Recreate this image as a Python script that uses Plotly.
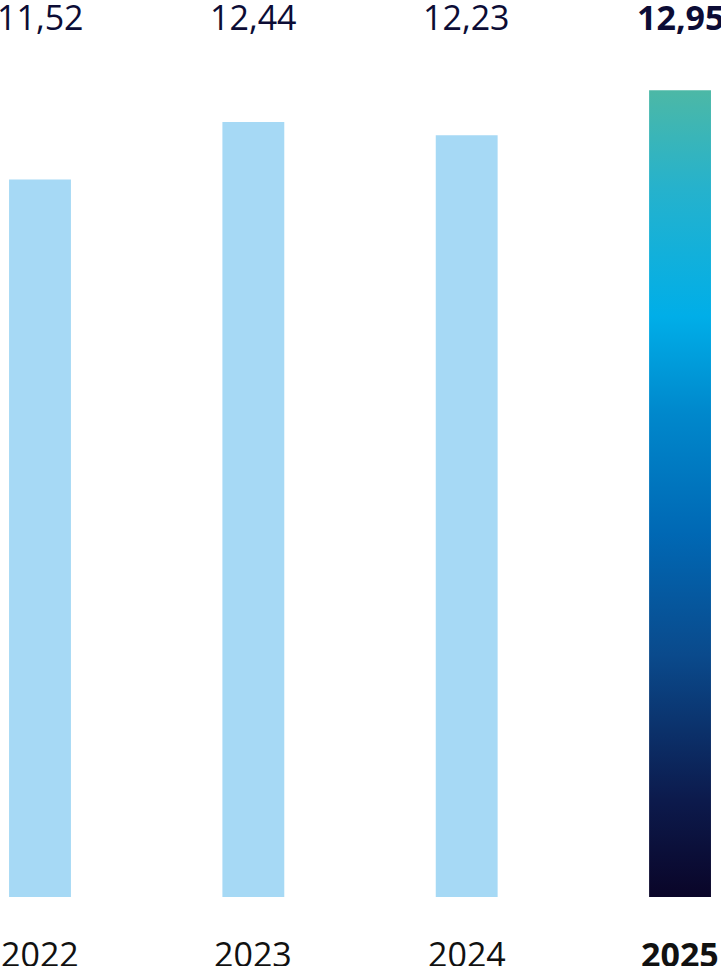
import plotly.graph_objects as go

annees = ["2022", "2023", "2024", "2025"]
valeurs = [11.52, 12.44, 12.23, 12.95]
etiquettes = ["11,52", "12,44", "12,23", "12,95"]

bleu_clair = "#a6d9f5"
degrade = [
    [0.0, "#0a0528"],
    [0.12, "#0c1a4c"],
    [0.3, "#0a4a8c"],
    [0.45, "#0068b4"],
    [0.6, "#0088cc"],
    [0.72, "#00aee8"],
    [0.88, "#26b2cc"],
    [1.0, "#4cb8a6"],
]
police = "Open Sans"
largeur = 0.29

fig = go.Figure()

# les trois premieres annees en bleu clair
x_pos = list(range(len(annees)))
fig.add_bar(
    x=x_pos[:-1],
    y=valeurs[:-1],
    width=largeur,
    marker=dict(color=bleu_clair, line=dict(width=0)),
    hoverinfo="x+y",
)

# derniere annee : barre en degrade (scatter rempli)
xd = x_pos[-1]
vd = valeurs[-1]
fig.add_scatter(
    x=[xd - largeur / 2, xd + largeur / 2, xd + largeur / 2, xd - largeur / 2, xd - largeur / 2],
    y=[0, 0, vd, vd, 0],
    mode="lines",
    line=dict(width=0),
    fill="toself",
    fillgradient=dict(type="vertical", colorscale=degrade, start=0, stop=vd),
    hoverinfo="skip",
)

for i, txt in enumerate(etiquettes):
    gras = i == len(etiquettes) - 1
    fig.add_annotation(
        x=x_pos[i], y=1, xref="x", yref="paper",
        yanchor="top", yshift=8,
        text=f"<b>{txt}</b>" if gras else txt,
        showarrow=False,
        font=dict(family=police, size=34, color="#0c0c35"),
    )
    fig.add_annotation(
        x=x_pos[i], y=0, xref="x", yref="paper",
        yanchor="top", yshift=-32,
        text=f"<b>{annees[i]}</b>" if gras else annees[i],
        showarrow=False,
        font=dict(family=police, size=34, color="#111111"),
    )

fig.update_layout(
    width=721,
    height=966,
    margin=dict(l=0, r=0, t=0, b=69),
    plot_bgcolor="white",
    paper_bgcolor="white",
    showlegend=False,
    xaxis=dict(range=[-0.1875, 3.192], visible=False, fixedrange=True),
    yaxis=dict(range=[0, 14.4], visible=False, fixedrange=True),
)

# pas de marge autour du graphique dans la page
fig.write_html(
    "out.html",
    config={"displayModeBar": False},
    post_script="document.body.style.margin='0';document.body.style.overflow='hidden';",
)
